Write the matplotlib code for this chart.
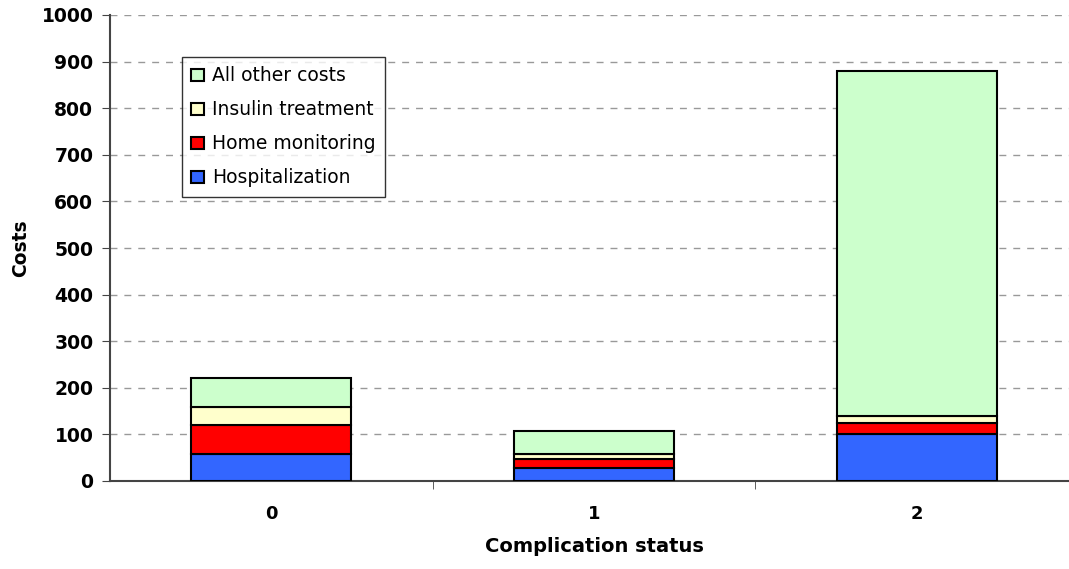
import matplotlib
matplotlib.use("Agg")
import matplotlib.pyplot as plt
import numpy as np

plt.rcParams['font.family'] = ['DejaVu Sans']

# costs per complication status, stacked from the bottom up
status = ['0', '1', '2']
hospitalization = [57, 27, 101]
home_monitoring = [64, 20, 24]
insulin_treatment = [38, 12, 15]
all_other_costs = [63, 48, 740]

series = [
    ('Hospitalization', hospitalization, '#3366ff'),
    ('Home monitoring', home_monitoring, '#ff0000'),
    ('Insulin treatment', insulin_treatment, '#ffffcc'),
    ('All other costs', all_other_costs, '#ccffcc'),
]

fig = plt.figure(figsize=(10.69, 5.69), dpi=100)
ax = fig.add_axes([110 / 1069, 1 - 481 / 569, 968 / 1069, 466 / 569])

x = np.arange(len(status))
bottom = np.zeros(len(status))
handles = []
for name, vals, col in series:
    b = ax.bar(x, vals, width=0.495, bottom=bottom, color=col,
               edgecolor='black', linewidth=1.5, label=name, zorder=3)
    handles.append(b)
    bottom += np.array(vals)

ax.set_xlim(-0.5, 2.5)
ax.set_ylim(0, 1000)
ax.set_yticks(np.arange(0, 1001, 100))
ax.yaxis.grid(True, linestyle=(0, (5, 5)), color='#999999', linewidth=1, zorder=0)

ax.set_xticks(x)
ax.set_xticklabels(status, fontweight='bold', fontsize=13)
ax.set_xticks([0.5, 1.5], minor=True)
ax.tick_params(axis='x', which='major', length=0, pad=17)
ax.tick_params(axis='x', which='minor', length=6, color='#444444')
ax.tick_params(axis='y', length=6, color='#444444', labelsize=13.5, pad=6)
for t in ax.get_yticklabels():
    t.set_fontweight('bold')

for s in ['top', 'right']:
    ax.spines[s].set_visible(False)
ax.spines['left'].set_color('#444444')
ax.spines['bottom'].set_color('#444444')
ax.spines['left'].set_linewidth(1.5)
ax.spines['bottom'].set_linewidth(1.5)

ax.set_ylabel('Costs', fontweight='bold', fontsize=13.5, labelpad=8)
ax.set_xlabel('Complication status', fontweight='bold', fontsize=14, labelpad=10)

leg = ax.legend(handles=handles[::-1], loc='upper left',
                bbox_to_anchor=(72 / 968, 1 - 42 / 466), fontsize=13.5,
                frameon=True, fancybox=False, edgecolor='black',
                handlelength=0.65, handleheight=0.65, handletextpad=0.45,
                labelspacing=0.8, borderpad=0.5, borderaxespad=0)
leg.get_frame().set_linewidth(1)
leg.set_zorder(5)

fig.savefig('out.png', dpi=100)
